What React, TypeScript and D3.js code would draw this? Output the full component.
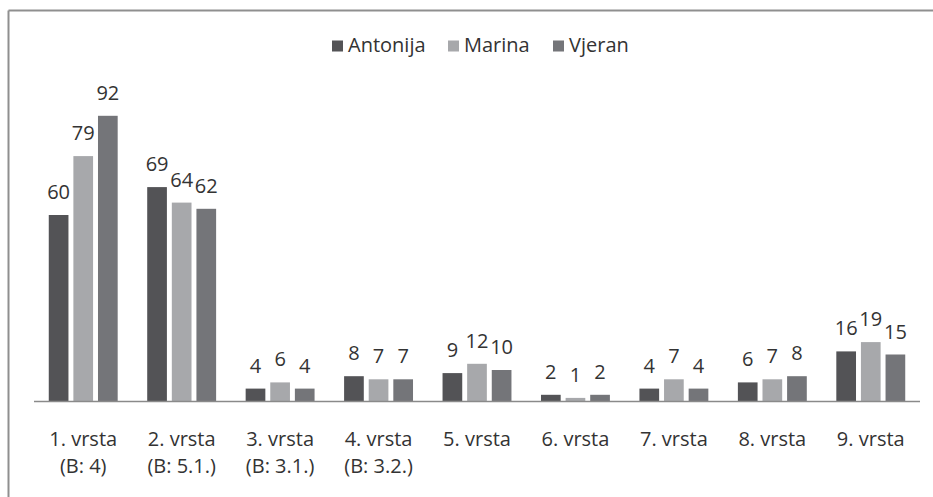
import React from "react";
import * as d3 from "d3";

const categories = [
  ["1. vrsta", "(B: 4)"],
  ["2. vrsta", "(B: 5.1.)"],
  ["3. vrsta", "(B: 3.1.)"],
  ["4. vrsta", "(B: 3.2.)"],
  ["5. vrsta"],
  ["6. vrsta"],
  ["7. vrsta"],
  ["8. vrsta"],
  ["9. vrsta"],
];
const seriesNames = ["Antonija", "Marina", "Vjeran"];
const antonija = [60, 69, 4, 8, 9, 2, 4, 6, 16];
const marina = [79, 64, 6, 7, 12, 1, 7, 7, 19];
const vjeran = [92, 62, 4, 7, 10, 2, 4, 8, 15];
const seriesValues = [antonija, marina, vjeran];
const colors = ["#535356", "#a7a8ab", "#747579"];

const W = 933;
const H = 497;
const FONT = "'Open Sans', sans-serif";
const TEXT = "#333";

export default function App() {
  const ids = categories.map((_, i) => String(i));
  const x0 = d3
    .scaleBand<string>()
    .domain(ids)
    .range([34, 920])
    .paddingInner(0.3)
    .paddingOuter(0.15);
  const x1 = d3
    .scaleBand<string>()
    .domain(seriesNames)
    .range([0, x0.bandwidth()])
    .paddingInner(0.2);
  const y = d3.scaleLinear().domain([0, 100]).range([401, 91]);

  const legendX = [332, 448, 553];

  return (
    <svg
      width={W}
      height={H}
      style={{ position: "absolute", left: 0, top: 0, background: "#fff" }}
      fontFamily={FONT}
    >
      <rect x={0} y={0} width={W} height={H} fill="#fff" />
      <line x1={8.5} y1={10.5} x2={W} y2={10.5} stroke="#8f8f8f" strokeWidth={2} />
      <line x1={8.5} y1={10.5} x2={8.5} y2={H} stroke="#8f8f8f" strokeWidth={2} />

      {/* legend */}
      {seriesNames.map((s, i) => (
        <g key={s}>
          <rect x={legendX[i]} y={40.5} width={11} height={11} fill={colors[i]} />
          <text x={legendX[i] + 16} y={51.5} fontSize={20} fill={TEXT}>
            {s}
          </text>
        </g>
      ))}

      {/* bars */}
      {ids.map((id, ci) => (
        <g key={id} transform={`translate(${x0(id)},0)`}>
          {seriesNames.map((s, si) => {
            const v = seriesValues[si][ci];
            const bx = x1(s)!;
            return (
              <g key={s}>
                <rect
                  x={bx}
                  y={y(v)}
                  width={x1.bandwidth()}
                  height={y(0) - y(v)}
                  fill={colors[si]}
                />
                <text
                  x={bx + x1.bandwidth() / 2}
                  y={y(v) - 16}
                  fontSize={20}
                  textAnchor="middle"
                  fill={TEXT}
                >
                  {v}
                </text>
              </g>
            );
          })}
        </g>
      ))}

      {/* axis */}
      <line x1={34} y1={401.5} x2={920} y2={401.5} stroke="#8a8a8a" strokeWidth={1.5} />
      {categories.map((lines, ci) => (
        <text
          key={ci}
          x={x0(String(ci))! + x0.bandwidth() / 2}
          y={446}
          fontSize={20}
          textAnchor="middle"
          fill={TEXT}
        >
          {lines.map((l, li) => (
            <tspan key={li} x={x0(String(ci))! + x0.bandwidth() / 2} dy={li === 0 ? 0 : 27}>
              {l}
            </tspan>
          ))}
        </text>
      ))}
    </svg>
  );
}
